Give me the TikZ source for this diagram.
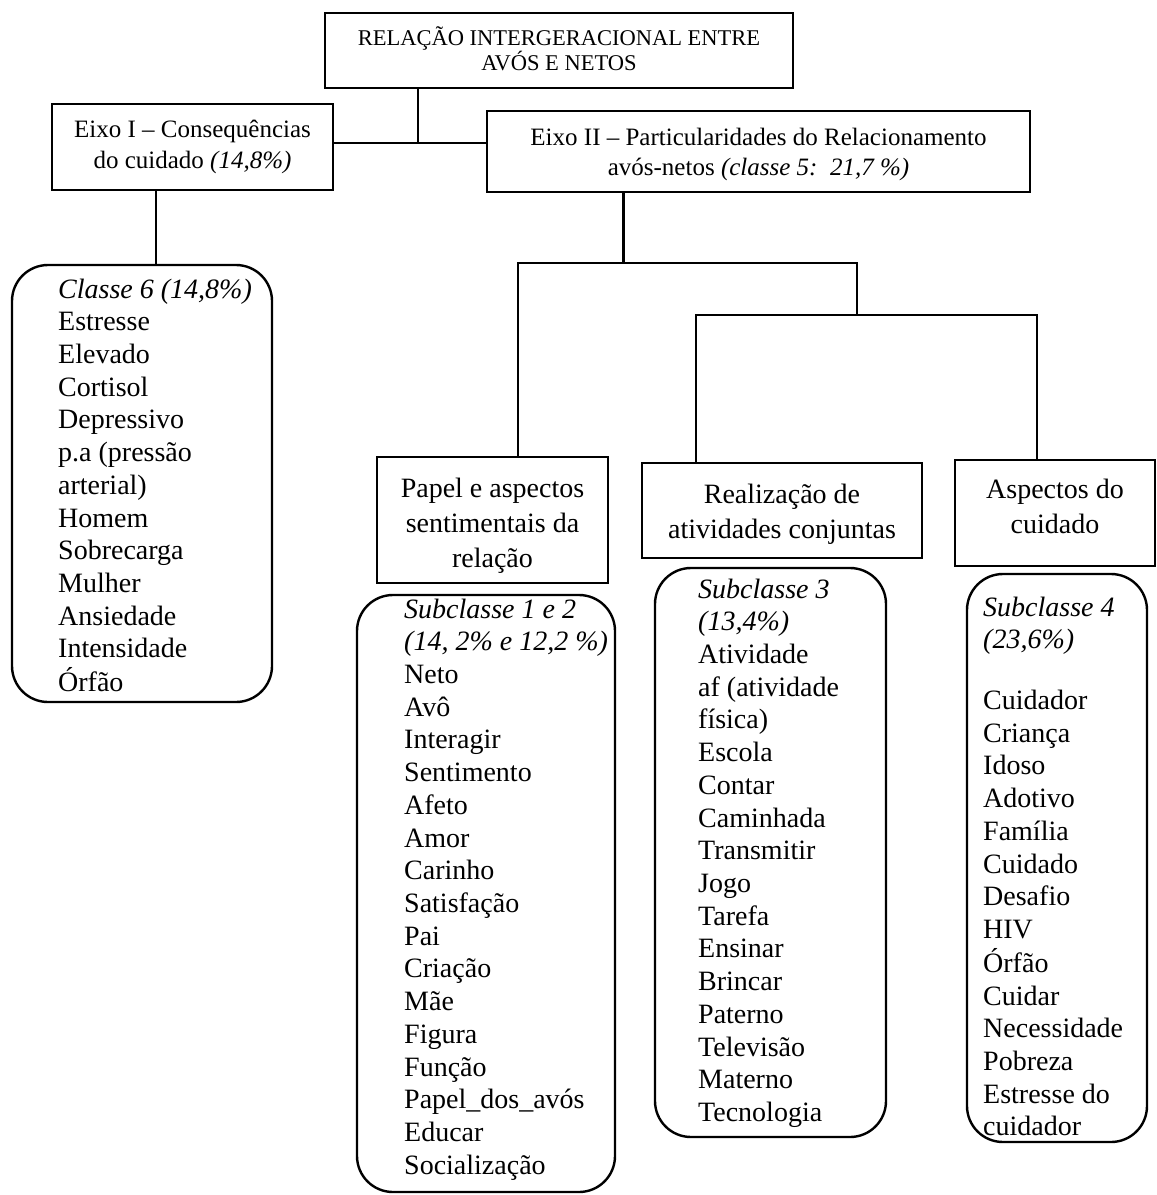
\documentclass[tikz,border=0pt]{standalone}
\usepackage{fontspec}
\setmainfont{Liberation Serif}
\usetikzlibrary{fit}
\begin{document}
\begin{tikzpicture}[x=0.5pt,y=-0.5pt,line width=1.2pt,
  box/.style={draw, fit={#1}, inner sep=0pt},
  lbox/.style={draw, rounded corners=18pt, fit={#1}, inner sep=0pt},
  toptxt/.style={font=\fontsize{11.25}{12.5}\selectfont, align=center, inner sep=0pt},
  eixotxt/.style={font=\fontsize{12.5}{15.4}\selectfont, align=center, inner sep=0pt},
  hdtxt/.style={font=\fontsize{14}{17.5}\selectfont, align=center, inner sep=0pt},
  lsttxt/.style={font=\fontsize{14}{16.36}\selectfont, inner sep=0pt, anchor=base west}]
\useasboundingbox (0,0) rectangle (1157,1195);
\fill[white] (0,0) rectangle (1157,1195);

% boxes
\node[box={(325,13) (793,88)}] (top) {};
\node[box={(52,104) (333,190)}] (e1) {};
\node[box={(487,111) (1030,192)}] (e2) {};
\node[lbox={(12,265) (272,702)}] (c6) {};
\node[box={(377,457) (608,583)}] (papel) {};
\node[box={(642,463) (922,558)}] (real) {};
\node[box={(955,460) (1155,566)}] (asp) {};
\node[lbox={(357,595) (615,1192)}] (s12) {};
\node[lbox={(655,568) (886,1137)}] (s3) {};
\node[lbox={(967,574) (1147,1142)}] (s4) {};

% heading texts
\node[toptxt] (toptext) at ([yshift=1pt]top.center) {RELAÇÃO INTERGERACIONAL ENTRE\\AVÓS E NETOS};
\node[eixotxt] (e1text) at (e1.center) {Eixo I – Consequências\\do cuidado \textit{(14,8\%)}};
\node[eixotxt] (e2text) at ([yshift=-1.5pt]e2.center) {Eixo II – Particularidades do Relacionamento\\avós-netos \textit{(classe 5:\ \ 21,7 \%)}};
\node[hdtxt] (papeltext) at ([yshift=-2.75pt]papel.center) {Papel e aspectos\\sentimentais da\\relação};
\node[hdtxt] (realtext) at ([yshift=-1.75pt]real.center) {Realização de\\atividades conjuntas};
\node[hdtxt] (asptext) at ([yshift=3.25pt]asp.center) {Aspectos do\\cuidado};

% list texts
\node[lsttxt] (c6text) at (57,298) {\begin{tabular}[t]{@{}l@{}}\textit{Classe 6 (14,8\%)}\\
Estresse\\ Elevado\\ Cortisol\\ Depressivo\\ p.a (pressão\\ arterial)\\ Homem\\ Sobrecarga\\ Mulher\\ Ansiedade\\ Intensidade\\ Órfão\end{tabular}};

\node[lsttxt] (s12text) at (403,618) {\begin{tabular}[t]{@{}l@{}}\textit{Subclasse 1 e 2}\\ \textit{(14, 2\% e 12,2 \%)}\\
Neto\\ Avô\\ Interagir\\ Sentimento\\ Afeto\\ Amor\\ Carinho\\ Satisfação\\ Pai\\ Criação\\ Mãe\\ Figura\\ Função\\ Papel\_dos\_avós\\ Educar\\ Socialização\end{tabular}};

\node[lsttxt] (s3text) at (697,598) {\begin{tabular}[t]{@{}l@{}}\textit{Subclasse 3}\\ \textit{(13,4\%)}\\
Atividade\\ af (atividade\\ física)\\ Escola\\ Contar\\ Caminhada\\ Transmitir\\ Jogo\\ Tarefa\\ Ensinar\\ Brincar\\ Paterno\\ Televisão\\ Materno\\ Tecnologia\end{tabular}};

\node[lsttxt] (s4text) at (982,616) {\begin{tabular}[t]{@{}l@{}}\textit{Subclasse 4}\\ \textit{(23,6\%)}\\[14pt]
Cuidador\\ Criança\\ Idoso\\ Adotivo\\ Família\\ Cuidado\\ Desafio\\ HIV\\ Órfão\\ Cuidar\\ Necessidade\\ Pobreza\\ Estresse do\\ cuidador\end{tabular}};

% connectors
\coordinate (ja) at (418,143);
\coordinate (jb) at (156,0);
\coordinate (jc) at (623.5,263);
\coordinate (jd) at (518,263);
\coordinate (je) at (857,263);
\coordinate (jf) at (857,315);
\coordinate (jg) at (696,315);
\coordinate (jh) at (1037,315);
\draw (top.south -| ja) -- (ja);
\draw (e1.east |- ja) -- (e2.west |- ja);
\draw (e1.south -| jb) -- (c6.north -| jb);
\draw (e2.south -| jc) -- (jc);
\draw (papel.north -| jd) -- (jd) -- (je) -- (jf);
\draw (real.north -| jg) -- (jg) -- (jh) -- (asp.north -| jh);
\end{tikzpicture}
\end{document}
